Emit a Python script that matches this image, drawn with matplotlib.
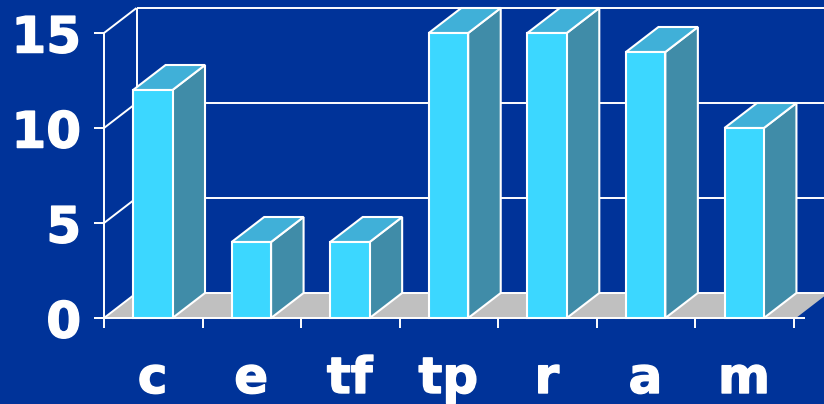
import matplotlib
matplotlib.use('Agg')
import matplotlib.pyplot as plt
import matplotlib.patheffects as pe
from matplotlib.patches import Polygon

categories = ['c', 'e', 'tf', 'tp', 'r', 'a', 'm']
values = [12, 4, 4, 15, 15, 14, 10]
y_ticks = [0, 5, 10, 15]

BG = '#003399'
FRONT = '#3CD7FF'
TOP = '#40B0D8'
SIDE = '#408CA8'
FLOOR = '#C0C0C0'
W = 824
H = 404

fig = plt.figure(figsize=(W / 100, H / 100), dpi=100, facecolor=BG)
# axes box is the front plane of the fake 3d chart
ax = fig.add_axes([104 / W, 1 - 318 / H, 690 / W, 285 / H])
ax.set_xlim(0, len(categories))
ax.set_ylim(0, 15)
ax.axis('off')

# depth of the box, in data units
dx = 32.5 / (690 / len(categories))
dy = 25 / 19
bar_w = 0.4
n = len(categories)
right = n + 0.35  # back wall runs off the edge of the picture
heavy = [pe.withStroke(linewidth=1.0, foreground='white')]


def poly(pts, color, z):
    ax.add_patch(Polygon(pts, closed=True, facecolor=color, edgecolor='white',
                         linewidth=1.5, joinstyle='miter', zorder=z, clip_on=False))


def line(xs, ys, z=1):
    ax.plot(xs, ys, color='white', lw=1.4, zorder=z, clip_on=False,
            solid_capstyle='butt')


# floor
ax.add_patch(Polygon([(0, 0), (dx, dy), (right, dy), (right - dx, 0)], closed=True,
                     facecolor=FLOOR, edgecolor='none', zorder=1, clip_on=False))

# back wall
line([dx, dx], [dy, 15 + dy])
line([0, 0], [0, 15], 2)
for t in y_ticks:
    line([-0.1, 0], [t, t], 2)
    line([0, dx], [t, t + dy], 2)
    line([dx, right], [t + dy, t + dy], 2)

# bars, left to right so that later ones sit on top
for i, v in enumerate(values):
    x0 = i + 0.5 - bar_w / 2 - 0.005
    x1 = x0 + bar_w
    poly([(x1, 0), (x1 + dx, dy), (x1 + dx, v + dy), (x1, v)], SIDE, 3)
    poly([(x0, v), (x0 + dx, v + dy), (x1 + dx, v + dy), (x1, v)], TOP, 3)
    poly([(x0, 0), (x0, v), (x1, v), (x1, 0)], FRONT, 4)

# front axis and ticks
line([-0.1, n + 0.11], [0, 0], 5)
for i in range(n + 1):
    line([i, i], [0, -0.55], 5)

for t in y_ticks:
    ax.annotate(str(t), (0, t), xytext=(-16.5, -4), textcoords='offset points',
                ha='right', va='center', color='white', fontsize=36, fontweight='bold',
                annotation_clip=False, path_effects=heavy)

for i, c in enumerate(categories):
    ax.annotate(c, (i + 0.5, 0), xytext=(-0.5, -54), textcoords='offset points',
                ha='center', va='baseline', color='white', fontsize=36, fontweight='bold',
                annotation_clip=False, path_effects=heavy)

fig.savefig('out.png', dpi=100, facecolor=BG)
